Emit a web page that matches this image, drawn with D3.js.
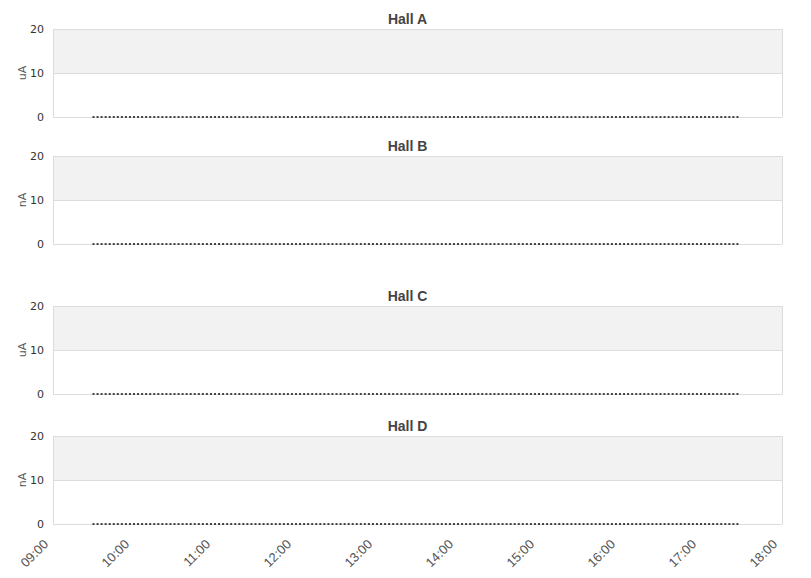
<!DOCTYPE html>
<html><head><meta charset="utf-8">
<script src="https://cdn.jsdelivr.net/npm/d3@7"></script>
<style>
html,body{margin:0;padding:0;background:#fff;}
svg{display:block;font-family:"DejaVu Sans",sans-serif;}
</style></head>
<body><svg id="chart" width="811" height="578"></svg>
<script>
// ---- data ----
const hallTitles = ["Hall A", "Hall B", "Hall C", "Hall D"];
const hallUnits = ["uA", "nA", "uA", "nA"];
const yTicks = [0, 10, 20];
const xTickLabels = ["09:00","10:00","11:00","12:00","13:00","14:00","15:00","16:00","17:00","18:00"];
const sampleStart = "09:30";
const sampleEnd = "17:27";
const sampleStepMinutes = 3;
// beam current readings (all zero over the day), one per sample time
const hallAValues = [0,0,0,0,0,0,0,0,0,0,0,0,0,0,0,0,0,0,0,0,0,0,0,0,0,0,0,0,0,0,0,0,0,0,0,0,0,0,0,0,0,0,0,0,0,0,0,0,0,0,0,0,0,0,0,0,0,0,0,0,0,0,0,0,0,0,0,0,0,0,0,0,0,0,0,0,0,0,0,0,0,0,0,0,0,0,0,0,0,0,0,0,0,0,0,0,0,0,0,0,0,0,0,0,0,0,0,0,0,0,0,0,0,0,0,0,0,0,0,0,0,0,0,0,0,0,0,0,0,0,0,0,0,0,0,0,0,0,0,0,0,0,0,0,0,0,0,0,0,0,0,0,0,0,0,0,0,0,0,0];
const hallBValues = hallAValues.slice();
const hallCValues = hallAValues.slice();
const hallDValues = hallAValues.slice();
const hallValues = [hallAValues, hallBValues, hallCValues, hallDValues];

// ---- layout ----
const svg = d3.select("#chart");
const parseT = d3.timeParse("%Y-%m-%d %H:%M");
const day = "2020-01-01 ";
const x = d3.scaleTime()
  .domain([parseT(day + xTickLabels[0]), parseT(day + xTickLabels[xTickLabels.length - 1])])
  .range([53, 782]);
const sampleTimes = d3.timeMinute.every(sampleStepMinutes)
  .range(parseT(day + sampleStart), d3.timeMinute.offset(parseT(day + sampleEnd), 1));

const panelTops = [29, 156, 306, 436];
const panelH = 88;
const gridColor = "#dcdcdc";

hallTitles.forEach((title, i) => {
  const top = panelTops[i];
  const y = d3.scaleLinear().domain([0, 20]).range([top + panelH, top]);
  const g = svg.append("g");

  // upper band
  g.append("rect")
    .attr("x", x.range()[0]).attr("y", y(20))
    .attr("width", x.range()[1] - x.range()[0]).attr("height", y(10) - y(20))
    .attr("fill", "#f2f2f2");

  // gridlines
  g.selectAll("line.grid").data(yTicks).enter().append("line")
    .attr("x1", x.range()[0]).attr("x2", x.range()[1])
    .attr("y1", d => Math.round(y(d)) + 0.5).attr("y2", d => Math.round(y(d)) + 0.5)
    .attr("stroke", gridColor).attr("stroke-width", 1);

  // left/right borders
  [x.range()[0], x.range()[1]].forEach(px => {
    g.append("line")
      .attr("x1", px + 0.5).attr("x2", px + 0.5)
      .attr("y1", y(20)).attr("y2", y(0) + 0.5)
      .attr("stroke", gridColor).attr("stroke-width", 1);
  });

  // y tick labels
  g.selectAll("text.ytick").data(yTicks).enter().append("text")
    .attr("x", 44).attr("y", d => y(d) + 4)
    .attr("text-anchor", "end")
    .attr("font-size", 11).attr("fill", "#333")
    .text(d => d);

  // unit label
  const midY = (y(0) + y(20)) / 2;
  g.append("text")
    .attr("transform", `translate(26,${midY}) rotate(-90)`)
    .attr("text-anchor", "middle")
    .attr("font-size", 11).attr("fill", "#555")
    .text(hallUnits[i]);

  // title
  g.append("text")
    .attr("x", (x.range()[0] + x.range()[1]) / 2 - 10)
    .attr("y", top - 5)
    .attr("text-anchor", "middle")
    .attr("font-family", "'Liberation Sans',Arial,sans-serif")
    .attr("font-size", 14).attr("font-weight", "bold").attr("fill", "#444")
    .text(title);

  // data points
  const pts = hallValues[i].map((v, k) => ({t: sampleTimes[k], v}));
  g.selectAll("rect.pt").data(pts).enter().append("rect")
    .attr("x", d => x(d.t) - 1).attr("y", d => y(d.v) - 1)
    .attr("width", 2).attr("height", 2)
    .attr("fill", "#444");
});

// x-axis labels on last panel
const xAxisY = panelTops[3] + panelH;
const xTimes = xTickLabels.map(s => parseT(day + s));
svg.append("g").selectAll("text").data(xTimes).enter().append("text")
  .attr("transform", d => `translate(${x(d) - 4},${xAxisY + 21}) rotate(-45)`)
  .attr("text-anchor", "end")
  .attr("font-family", "'Liberation Sans',Arial,sans-serif")
  .attr("font-size", 13).attr("fill", "#555")
  .text(d => d3.timeFormat("%H:%M")(d));
</script>
</body></html>
